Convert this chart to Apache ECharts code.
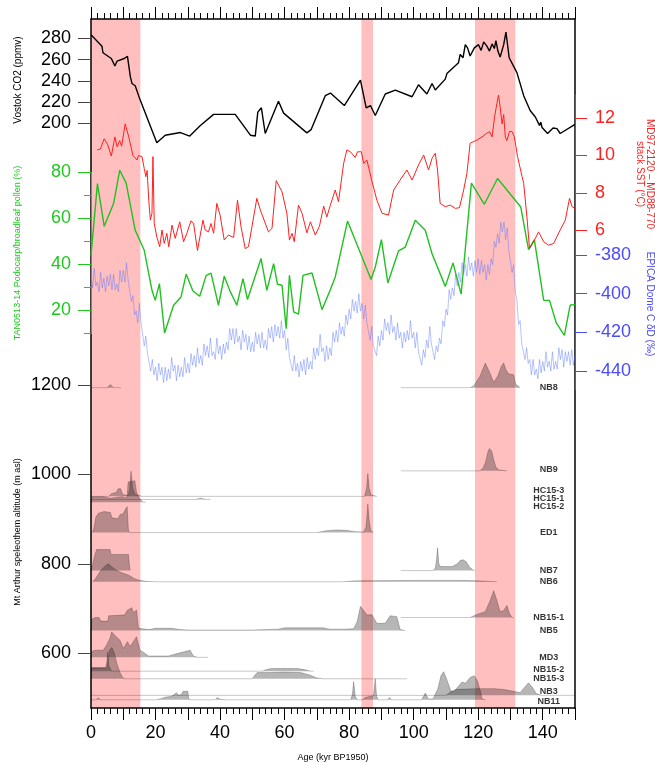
<!DOCTYPE html>
<html><head><meta charset="utf-8">
<script src="https://cdn.jsdelivr.net/npm/echarts@6/dist/echarts.min.js"></script>
<style>html,body{margin:0;padding:0;background:#fff}#c{width:655px;height:765px}</style>
</head><body><div id="c"></div>
<script>
// ---------------- DATA ----------------
const ageTickLabels = [0,20,40,60,80,100,120,140];
const co2Ticks = [200,220,240,260,280];
const sstTicks = [6,8,10,12];
const pollenTicks = [20,40,60,80];
const pollenMinorTicks = [10,30,50,70];
const ddTicks = [-440,-420,-400,-380];
const altTicks = [600,800,1000,1200];

const bandStart = [0, 83.8, 119];
const bandEnd = [15.3, 87.4, 131.5];

// Vostok CO2 (ppmv)
const co2 = [[0,283.4],[3.4,272.6],[3.7,266.4],[6.3,261],[7.4,254],[8.1,258.6],[10.3,261],[11.3,263],[12.2,243.7],[12.7,237.5],[13.7,235.3],[15.1,223],[20.4,181.7],[23,188.8],[27.7,191.3],[30.6,188],[33.9,198],[38,208.4],[44.7,208.4],[49.4,188.8],[50.9,188],[51.7,210.5],[52.8,214.6],[54,190.4],[58.1,220.7],[59.7,209.6],[66.9,191],[68.2,194],[72.6,226],[74.2,228.5],[78.5,216.7],[83.5,240.6],[85.3,214.6],[86.6,216.7],[88.1,207.4],[91.2,227.6],[94.3,231.3],[99.5,225],[101.5,236.3],[104.1,227.6],[105.7,237.5],[106.7,231.3],[109.8,241.6],[110.3,246.8],[113.9,257],[114.4,264.8],[115.3,261.7],[116,274],[116.7,271],[117.5,263.3],[118.8,271],[120.1,274],[120.9,268.6],[121.7,276.6],[122.7,272.6],[123.5,268],[124.3,274.7],[125,270.4],[125.5,277.8],[126.1,268],[126.8,262.3],[127.9,274],[128.6,285.9],[129.1,285],[129.6,261.7],[132,247.7],[134.1,226],[136.1,212],[137.7,205.9],[139,198],[139.4,201],[139.8,196],[141.5,190.4],[143.2,195.6],[144.4,195],[145.4,190.4],[150,199]];

// MD97-2120 – MD88-770 stack SST (°C)
const sst = [[1.9,10.3],[2.9,10.35],[4.1,10.9],[5.2,10.57],[6.3,9.97],[7.4,11.0],[8.1,10.47],[8.9,10.8],[9.5,10.5],[10.6,11.7],[11.7,11.0],[12.2,10.9],[13,10.0],[14.3,9.76],[14.7,10.0],[15.8,9.94],[16.5,9.3],[17.0,8.86],[17.4,9.2],[17.9,7.6],[18.4,6.53],[18.9,6.9],[19.2,9.94],[19.6,6.35],[20.4,5.63],[21.3,5.1],[22,6.0],[22.7,5.28],[23.5,5.82],[24.1,5.1],[25.1,6.26],[26.1,5.55],[27.5,6.44],[28.7,5.37],[29.7,5.82],[31,6.5],[31.8,6.35],[33,4.9],[34.7,6.53],[35.4,6.0],[36.4,5.9],[37.2,6.35],[38,5.82],[39,7.43],[40,6.8],[41.3,5.46],[42.6,5.73],[44.2,5.6],[45.4,7.6],[46.5,6.17],[47.8,5.0],[48.8,5.1],[51.4,7.7],[52.5,7.07],[55,5.9],[56.1,6.09],[57.4,8.65],[59.2,8.05],[60.7,6.9],[61.5,5.46],[62.3,5.82],[63,5.37],[64.3,7.34],[65.4,6.9],[66.9,5.85],[68,6.44],[69.5,5.73],[70.8,6.2],[72.1,7.28],[73.1,6.7],[74.2,7.35],[75.7,8.15],[76.7,7.52],[78.3,9.58],[79.3,10.3],[80.4,10.2],[81.9,9.9],[82.6,10.2],[83.2,10.1],[83.8,10.2],[84.5,9.58],[85.5,9.76],[87.1,8.6],[88.6,7.6],[90.2,6.9],[92.2,6.8],[93.8,8.15],[95.8,8.68],[97.9,9.22],[99.5,8.68],[101.5,9.49],[103.1,10.03],[104.6,9.22],[105.7,9.85],[106.7,10.12],[107.4,9.22],[108.2,7.43],[109.8,7.25],[111.3,7.34],[112.9,7.16],[114.2,7.2],[115.5,8.15],[116.5,9.04],[117.5,10.66],[119.6,10.83],[121.2,11.0],[122.7,11.2],[123.5,11.28],[124.3,11.0],[125.1,12.1],[125.8,12.8],[126.3,13.25],[126.8,12.6],[127.4,11.7],[127.9,12.2],[128.4,11.0],[128.9,10.8],[129.7,11.3],[130.5,11.28],[131.2,11.0],[132.2,9.94],[133.6,8.86],[134.1,8.5],[135.1,6.7],[135.9,5.0],[137.2,5.37],[138.7,5.9],[140.3,5.37],[141.8,5.18],[143.4,5.28],[145.4,6.0],[147,6.53],[148.3,7.7],[149.1,7.25],[150,7.16]];

// TAN0513-14 Podocarp/broadleaf pollen (%)
const pollen = [[0,43.9],[2.0,75.1],[4.1,56.5],[7.0,66.4],[8.9,80.9],[10.9,75.3],[13.7,54.8],[16.5,46.1],[18.9,28.7],[19.9,24.3],[21.2,31.6],[22.8,10.1],[25.6,22.2],[27.9,25.8],[29.5,35.7],[31.6,28.4],[33.7,26.1],[35.7,35.2],[37.2,36.2],[39.5,22.2],[41.3,34.8],[43.2,28.0],[45.2,22.2],[47.1,33.8],[48.5,24.7],[52.7,42.5],[54.5,28.7],[56.6,40.3],[57.8,31.3],[59.2,30.9],[60.5,12.0],[61.5,35.2],[62.8,19.3],[64.3,18.3],[65.7,35.2],[68.5,36.2],[71.6,20.3],[74.2,29],[75.7,34.5],[79.5,58.8],[86.8,33.4],[88.1,38.8],[90,50.7],[92,31.9],[95.3,45.8],[97.4,47.5],[100.5,59.1],[103.6,54.8],[105.7,44.6],[109.8,30.4],[112.2,40.6],[114.7,27.0],[117.9,75.3],[121.9,66.1],[126,77.3],[133.2,64.9],[135.6,46.4],[137.4,50.7],[140.3,24.3],[142.1,24.3],[144.2,14.5],[146.7,9.1],[148.5,22.2],[150,22.6]];

// EPICA Dome C δD (‰)
const epicaDD = [[0,-391],[0.5,-397],[1,-387],[1.5,-396],[2,-394],[2.5,-399],[3,-389],[3.5,-397],[4,-392],[4.5,-399],[5,-391],[5.5,-396],[6,-390],[6.5,-398],[7,-390],[7.5,-398],[8,-395],[8.5,-399],[9,-388],[9.5,-394],[10,-388],[10.5,-394],[11,-384],[11.5,-393],[12,-392],[12.5,-404],[13,-401],[13.5,-411],[14,-409],[14.5,-415],[15,-405],[15.5,-415],[16,-415],[16.5,-427],[17,-422],[17.5,-431],[18,-430],[18.5,-440],[19,-434],[19.5,-442],[20,-438],[20.5,-445],[21,-436],[21.5,-442],[22,-438],[22.5,-446],[23,-438],[23.5,-445],[24,-439],[24.5,-444],[25,-433],[25.5,-440],[26,-437],[26.5,-445],[27,-437],[27.5,-443],[28,-438],[28.5,-443],[29,-433],[29.5,-441],[30,-436],[30.5,-441],[31,-431],[31.5,-437],[32,-432],[32.5,-438],[33,-428],[33.5,-436],[34,-432],[34.5,-437],[35,-426],[35.5,-432],[36,-427],[36.5,-433],[37,-423],[37.5,-432],[38,-430],[38.5,-434],[39,-423],[39.5,-431],[40,-427],[40.5,-434],[41,-426],[41.5,-431],[42,-425],[42.5,-429],[43,-418],[43.5,-424],[44,-418],[44.5,-426],[45,-418],[45.5,-425],[46,-422],[46.5,-429],[47,-419],[47.5,-425],[48,-421],[48.5,-429],[49,-422],[49.5,-430],[50,-425],[50.5,-430],[51,-420],[51.5,-426],[52,-421],[52.5,-428],[53,-420],[53.5,-428],[54,-424],[54.5,-429],[55,-418],[55.5,-423],[56,-417],[56.5,-425],[57,-416],[57.5,-422],[58,-417],[58.5,-423],[59,-414],[59.5,-423],[60,-419],[60.5,-429],[61,-423],[61.5,-433],[62,-432],[62.5,-440],[63,-432],[63.5,-440],[64,-436],[64.5,-443],[65,-435],[65.5,-440],[66,-434],[66.5,-442],[67,-433],[67.5,-439],[68,-435],[68.5,-439],[69,-428],[69.5,-434],[70,-428],[70.5,-432],[71,-421],[71.5,-430],[72,-428],[72.5,-435],[73,-427],[73.5,-434],[74,-428],[74.5,-432],[75,-420],[75.5,-425],[76,-419],[76.5,-425],[77,-415],[77.5,-421],[78,-417],[78.5,-422],[79,-411],[79.5,-416],[80,-408],[80.5,-413],[81,-403],[81.5,-409],[82,-404],[82.5,-410],[83,-400],[83.5,-409],[84,-405],[84.5,-413],[85,-406],[85.5,-415],[86,-414],[86.5,-424],[87,-417],[87.5,-427],[88,-426],[88.5,-432],[89,-422],[89.5,-427],[90,-419],[90.5,-424],[91,-413],[91.5,-419],[92,-415],[92.5,-421],[93,-411],[93.5,-420],[94,-417],[94.5,-424],[95,-415],[95.5,-423],[96,-420],[96.5,-428],[97,-420],[97.5,-425],[98,-419],[98.5,-424],[99,-414],[99.5,-423],[100,-420],[100.5,-428],[101,-420],[101.5,-430],[102,-429],[102.5,-437],[103,-429],[103.5,-433],[104,-424],[104.5,-428],[105,-417],[105.5,-426],[106,-425],[106.5,-434],[107,-427],[107.5,-430],[108,-423],[108.5,-426],[109,-414],[109.5,-417],[110,-408],[110.5,-411],[111,-398],[111.5,-403],[112,-397],[112.5,-401],[113,-390],[113.5,-396],[114,-389],[114.5,-394],[115,-384],[115.5,-390],[116,-385],[116.5,-391],[117,-381],[117.5,-388],[118,-384],[118.5,-391],[119,-383],[119.5,-389],[120,-382],[120.5,-390],[121,-383],[121.5,-389],[122,-385],[122.5,-393],[123,-385],[123.5,-390],[124,-382],[124.5,-385],[125,-373],[125.5,-376],[126,-369],[126.5,-374],[127,-363],[127.5,-368],[128,-363],[128.5,-372],[129,-366],[129.5,-378],[130,-377],[130.5,-389],[131,-385],[131.5,-399],[132,-403],[132.5,-416],[133,-414],[133.5,-426],[134,-425],[134.5,-434],[135,-428],[135.5,-436],[136,-434],[136.5,-442],[137,-434],[137.5,-442],[138,-439],[138.5,-444],[139,-434],[139.5,-441],[140,-435],[140.5,-440],[141,-430],[141.5,-438],[142,-435],[142.5,-440],[143,-430],[143.5,-439],[144,-435],[144.5,-439],[145,-428],[145.5,-434],[146,-429],[146.5,-438],[147,-430],[147.5,-435],[148,-430],[148.5,-437],[149,-429],[149.5,-437],[150,-432]];

// Mt Arthur speleothem age distributions: [age kyr, height above baseline (m)], null = gap
const nb8 = [[0,0],[5,0],[6,7],[7,0],[9.3,0],null,[96,0],[117.5,0],[118.6,4],[120.5,25],[122.2,55],[123.5,35],[124.8,12],[126,25],[127.2,48],[127.9,55],[128.6,40],[129.4,31],[131,29],[131.6,8],[133,0]];
const nb9 = [[96,0],[120.5,0],[121.5,6],[122.3,20],[123,42],[123.5,50],[124.2,44],[124.8,25],[125.5,8],[126.5,2],[128.9,0]];
const hc153 = [[0,0],[5.5,0],[6.3,6],[7.9,9],[8.4,17],[9.2,17],[9.8,4],[11.5,2],[12,15],[12.4,56],[12.9,20],[13.5,6],[14.5,2],[16,0],[84.8,0],[85.4,18],[85.8,51],[86.2,18],[86.8,3],[88.6,0]];
const hc151 = [[0,0],[0.3,12],[3.8,12],[4.2,9],[6,9],[6.5,12],[9.5,12],[10,10],[11.2,10],[11.5,45],[13.6,48],[14.1,22],[15,8],[16.2,0],[17,0]];
const hc152 = [[0,0],[32.5,0],[34,3],[35.5,0],[37,0]];
const ed1 = [[0.5,0],[0.9,10],[1.5,35],[2.3,43],[4,47],[6,45],[6.5,33],[8.3,31],[9,40],[10,42],[10.5,50],[11.2,58],[11.6,5],[12,0],[70,0],[73,4],[76,6],[79,5],[82,2],[84.5,1],[85.2,12],[85.6,45],[85.8,64],[86.2,28],[86.7,5],[87.5,0]];
const nb7 = [[0,0],[0.3,5],[1,30],[1.7,47],[5.9,47],[6.2,36],[11.6,36],[12.1,0],null,[96,0],[106,0],[106.7,5],[107.1,25],[107.4,51],[107.8,15],[108.3,9],[112,9],[113.5,15],[114.5,23],[115.3,24],[116.3,20],[117.3,8],[118.6,0],[119,0]];
const nb6 = [[0.5,0],[1.5,8],[3,25],[4.5,36],[5.4,40],[6.5,33],[7.4,28],[9.5,20],[11.6,15],[13.5,7],[14.7,4],[17,1],[20,0],[78,0],[82,2],[100,3],[115,3],[120,2],[124,0.5],[125.8,0]];
const nb151 = [[96,0],[117.5,0],[119.6,7],[122.2,13],[123.7,38],[124.8,60],[125.8,38],[126.8,13],[127.9,16],[128.9,27],[129.7,9],[130.5,0],[131,0]];
const nb5 = [[0,0],[0.3,25],[1.2,29],[2.5,29],[3,21],[5.2,21],[5.5,33],[8.7,34],[10.5,35],[11.2,45],[12.6,51],[13.2,40],[14.1,46],[14.7,5],[15.2,3],[18,2],[20,5],[25,5],[27.6,2],[30,1],[50,1],[58,3],[60,6],[72,6],[74,3],[78,3],[81.4,4],[82.5,20],[83.5,54],[85.5,35],[87.1,35],[88.6,16],[91.2,16],[92.7,33],[94.8,31],[95.8,2],[97.4,0]];
const md3 = [[0,0],[0.2,13],[1.2,16],[3.8,16],[4.8,27],[5.9,43],[6.4,57],[7.4,49],[9,38],[10,20],[11.3,35],[12.1,24],[13.1,35],[14.1,46],[15.2,16],[16.7,9],[17.8,3],[24,3],[27,9],[29.1,13],[30.7,16],[31.7,3],[33,0],[36.3,0]];
const nb152 = [[0,0],[0.2,8],[4.5,8],[4.9,20],[5.2,43],[5.5,12],[6,6],[6.3,0],[8,0],[53,0],[54.5,4],[56,6],[64,6],[66.5,3],[68,0],[69,0]];
const nb153 = [[0,0],[0.2,24],[5,24],[5.3,45],[5.8,65],[6.5,70],[7.2,58],[8,35],[9,14],[9.8,3],[10.5,0],[50,0],[50.6,6],[51.5,14],[55,14],[60,15],[65,14],[68,8],[70,2],[72,0],[98,0]];
const nb3 = [[0,0],[110,0],[111.5,8],[113,13],[116,14],[120,15],[125,15],[128,13],[131,9],[133,6],[134,15],[135.6,28],[136.8,18],[138,4],[139.5,0],[150,0]];
const nb11 = [[0,0],[1.5,0],[2.2,4],[3,0],[20,0],[21.5,2],[23,6],[25,8],[26.5,16],[27.2,10],[28,12],[28.5,19],[30,19],[30.3,2],[31,0],[38.5,0],[39.2,5],[40,1],[42,0],[80.5,0],[81,12],[81.4,41],[81.9,8],[82.5,0],[84,0],[85,5],[86,7],[87.5,9],[88.1,47],[88.5,8],[89,0],[92,0],[92.5,5],[93.2,0],[102.5,0],[103.6,15],[104.5,2],[106,2],[107.5,25],[108.5,55],[109.3,63],[110.3,45],[111.5,20],[112.5,18],[113.8,30],[115,40],[116,37],[117.5,50],[118.8,54],[119.8,42],[120.8,15],[121.2,2],[122.2,0]];

const specimenNames = ['NB8','NB9','HC15-3','HC15-1','HC15-2','ED1','NB7','NB6','NB15-1','NB5','MD3','NB15-2','NB15-3','NB3','NB11'];
const specimenData = [nb8, nb9, hc153, hc151, hc152, ed1, nb7, nb6, nb151, nb5, md3, nb152, nb153, nb3, nb11];
const specimenBaseAlt = [1194, 1008, 951, 938, 944, 870, 785, 760, 680, 651, 591, 560, 543, 506, 496];
const specimenLabelAlt = [1195, 1010, 965, 947, 929, 871, 786, 761, 681, 651, 591, 564, 544, 515, 492];

// ---------------- CHART ----------------
const FONT = "'Liberation Sans', Arial, Helvetica, sans-serif";
const RED = '#ff1f1f', GREEN = '#1ec81e', BLUE = '#4b4bff';
const L = 91, W = 484;

function hiddenX(g){ return {type:'value', gridIndex:g, min:0, max:150, show:false}; }
function frameY(pos){
  return {type:'value', gridIndex:0, min:0, max:1, position:pos, z:3,
    axisLine:{show:true, onZero:false, lineStyle:{color:'#000', width:1.5}},
    axisTick:{show:false}, axisLabel:{show:false}, splitLine:{show:false}};
}
function panelY(g, min, max, pos, color, ticks, lineColor, showLine, tickLen, showLabels){
  return {type:'value', gridIndex:g, min:min, max:max, position:pos, z:4,
    axisLine:{show:showLine, onZero:false, lineStyle:{color:lineColor, width:1}},
    axisTick:{show:true, inside:false, length:tickLen, customValues:ticks, lineStyle:{color:lineColor, width:1}},
    axisLabel:{show:showLabels, customValues:ticks, margin:20, fontSize:18, color:color, fontFamily:FONT,
      formatter: v => String(v)},
    splitLine:{show:false}};
}
function xFrame(pos, labels){
  return {type:'value', gridIndex:0, min:0, max:150, interval:10, position:pos, z:5,
    axisLine:{show:true, onZero:false, lineStyle:{color:'#000', width:1.5}},
    axisTick:{show:true, inside:false, length:12, lineStyle:{color:'#000', width:1}},
    minorTick:{show:true, splitNumber:5, length:6, lineStyle:{color:'#000', width:1}},
    axisLabel:{show:labels, margin:16, fontSize:18, color:'#000', fontFamily:FONT,
      formatter: v => ageTickLabels.indexOf(v) >= 0 ? String(v) : ''},
    splitLine:{show:false}, minorSplitLine:{show:false}};
}

const series = [];
series.push({type:'line', xAxisIndex:0, yAxisIndex:0, data:[[0,0]], symbol:'none', silent:true, z:1,
  lineStyle:{opacity:0},
  markArea:{silent:true, itemStyle:{color:'#ffbfbf'},
    data: bandStart.map((s,i)=>[{xAxis:s},{xAxis:bandEnd[i]}])}});

specimenData.forEach((pts, i) => {
  const base = specimenBaseAlt[i];
  series.push({type:'line', name:specimenNames[i], xAxisIndex:6, yAxisIndex:7, symbol:'none', silent:true,
    clip:false, z:2, connectNulls:false,
    data: pts.map(p => p === null ? ['-','-'] : [p[0], base + p[1]]),
    lineStyle:{color:'rgba(0,0,0,0.22)', width:1},
    areaStyle:{origin: base, color:'rgba(25,25,25,0.45)'}});
});

series.push({type:'scatter', xAxisIndex:6, yAxisIndex:7, symbolSize:0, silent:true, z:6,
  data: specimenNames.map((n,i)=>({name:n, value:[141.9, specimenLabelAlt[i]]})),
  label:{show:true, position:'inside', formatter:'{b}', fontSize:9, fontWeight:'bold', color:'#000', fontFamily:FONT}});

series.push({type:'line', xAxisIndex:5, yAxisIndex:6, data:epicaDD, symbol:'none', clip:false, silent:true, z:3,
  lineStyle:{color:'rgba(80,110,255,0.6)', width:0.7}});
series.push({type:'line', xAxisIndex:4, yAxisIndex:4, data:pollen, symbol:'none', clip:false, silent:true, z:3,
  lineStyle:{color:'#22c022', width:1.4}});
series.push({type:'line', xAxisIndex:3, yAxisIndex:3, data:sst, symbol:'none', clip:false, silent:true, z:3,
  lineStyle:{color:RED, width:1}});
series.push({type:'line', xAxisIndex:2, yAxisIndex:2, data:co2, symbol:'none', clip:false, silent:true, z:3,
  lineStyle:{color:'#000', width:1.4}});

function vText(x, y, rot, text, color, size){
  return {type:'text', x:x, y:y, rotation:rot, silent:true, z:10,
    style:{text:text, fill:color, fontSize:size, fontFamily:FONT,
      align:'center', verticalAlign:'middle', textAlign:'center', textVerticalAlign:'middle'}};
}

const option = {
  animation:false,
  backgroundColor:'#fff',
  grid:[
    {left:L, top:19, width:W, height:689},
    {left:L, top:38.3, width:W, height:85},
    {left:L, top:95, width:W, height:158},
    {left:L, top:172.3, width:W, height:161},
    {left:L, top:253, width:W, height:137},
    {left:L, top:385, width:W, height:323}
  ],
  xAxis:[ xFrame('bottom', true), xFrame('top', false), hiddenX(1), hiddenX(2), hiddenX(3), hiddenX(4), hiddenX(5) ],
  yAxis:[
    frameY('left'), frameY('right'),
    panelY(1, 200, 280, 'left', '#000', co2Ticks, '#444', false, 13, true),
    panelY(2, 4.765, 13.25, 'right', RED, sstTicks, RED, true, 12, true),
    panelY(3, 10, 80, 'left', GREEN, pollenTicks, GREEN, true, 13, true),
    panelY(3, 10, 80, 'left', GREEN, pollenMinorTicks, GREEN, false, 7, false),
    panelY(4, -449.8, -378.97, 'right', BLUE, ddTicks, BLUE, true, 12, true),
    panelY(5, 477.7, 1200, 'left', '#000', altTicks, '#444', false, 13, true)
  ],
  graphic:[
    vText(18, 80, Math.PI/2, 'Vostok CO2 (ppmv)', '#000', 10),
    vText(18, 253, Math.PI/2, 'TAN0513-14 Podocarp/broadleaf pollen (%)', GREEN, 9),
    vText(18, 532, Math.PI/2, 'Mt Arthur speleothem altitude (m asl)', '#000', 9),
    vText(645, 174, -Math.PI/2, 'MD97-2120 – MD88-770\nstack SST (°C)', RED, 10),
    vText(650, 304, -Math.PI/2, 'EPICA Dome C δD (‰)', BLUE, 10),
    vText(333, 758, 0, 'Age (kyr BP1950)', '#000', 9)
  ],
  series: series
};

const chart = echarts.init(document.getElementById('c'), null, {renderer:'canvas'});
chart.setOption(option);
</script></body></html>
